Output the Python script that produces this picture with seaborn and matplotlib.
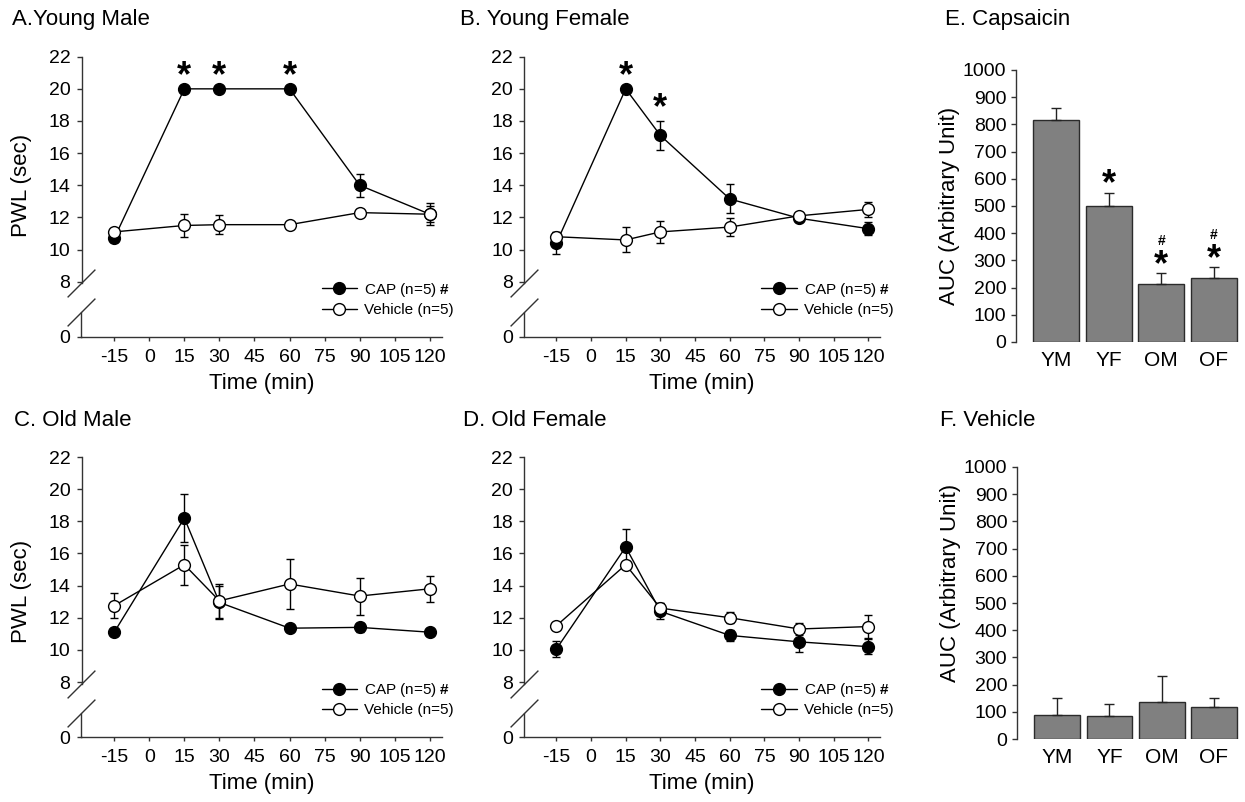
import matplotlib

matplotlib.use("Agg")
import matplotlib.pyplot as plt
from matplotlib.lines import Line2D
import numpy as np
import seaborn as sns

W, H = 1245, 802

times = [-15, 15, 30, 60, 90, 120]

# PWL (sec), mean and SEM
ym_cap = [10.7, 20.0, 20.0, 20.0, 14.0, 12.2]
ym_cap_sem = [0.2, 0.0, 0.0, 0.0, 0.7, 0.5]
ym_veh = [11.1, 11.5, 11.55, 11.55, 12.3, 12.2]
ym_veh_sem = [0.2, 0.7, 0.6, 0.1, 0.2, 0.7]

yf_cap = [10.4, 20.0, 17.1, 13.15, 11.95, 11.3]
yf_cap_sem = [0.7, 0.0, 0.9, 0.9, 0.2, 0.4]
yf_veh = [10.8, 10.6, 11.1, 11.4, 12.1, 12.5]
yf_veh_sem = [0.3, 0.78, 0.7, 0.55, 0.2, 0.45]

om_cap = [11.1, 18.2, 12.95, 11.35, 11.4, 11.1]
om_cap_sem = [0.2, 1.5, 1.0, 0.15, 0.3, 0.15]
om_veh = [12.75, 15.3, 13.05, 14.1, 13.35, 13.8]
om_veh_sem = [0.78, 1.25, 1.05, 1.55, 1.15, 0.8]

of_cap = [10.05, 16.4, 12.4, 10.9, 10.5, 10.2]
of_cap_sem = [0.5, 1.15, 0.5, 0.35, 0.65, 0.45]
of_veh = [11.5, 15.3, 12.6, 12.0, 11.3, 11.45]
of_veh_sem = [0.15, 0.15, 0.3, 0.35, 0.4, 0.7]

ym_stars = [15, 30, 60]
yf_stars = [15, 30]

groups = ["YM", "YF", "OM", "OF"]
auc_cap = [815, 500, 215, 237]
auc_cap_sem = [45, 48, 37, 38]
auc_veh = [88, 85, 137, 117]
auc_veh_sem = [62, 45, 93, 35]
auc_cap_stars = ["YF", "OM", "OF"]
auc_cap_hash = ["OM", "OF"]

x_ticks = [-15, 0, 15, 30, 45, 60, 75, 90, 105, 120]
y_zero = 4.58          # where "0" sits below the axis break
brk_hi, brk_lo = 7.9, 6.1
AXC = "#333333"

sns.set_theme(style="ticks")
plt.rcParams["font.family"] = ["Liberation Sans", "DejaVu Sans"]
plt.rcParams["mathtext.fontset"] = "custom"
plt.rcParams["mathtext.rm"] = "Liberation Sans"
plt.rcParams["mathtext.bf"] = "Liberation Sans:bold"
plt.rcParams["text.color"] = "black"
plt.rcParams["axes.labelcolor"] = "black"
plt.rcParams["axes.edgecolor"] = AXC
plt.rcParams["axes.linewidth"] = 1.0
plt.rcParams["xtick.color"] = AXC
plt.rcParams["ytick.color"] = AXC
plt.rcParams["xtick.labelcolor"] = "black"
plt.rcParams["ytick.labelcolor"] = "black"

fig = plt.figure(figsize=(W / 100, H / 100), dpi=100)


def px_axes(left, top, right, bottom):
    return fig.add_axes([left / W, 1 - bottom / H, (right - left) / W, (bottom - top) / H])


def mark(ax, x, y, s, off_pt, size, ink=0.165):
    ax.annotate(s, xy=(x, y), xytext=(0, off_pt - ink * size), textcoords="offset points",
                ha="center", va="center", fontsize=size, fontweight="bold", color="black",
                annotation_clip=False)


def time_panel(ax, cap, cap_sem, veh, veh_sem, stars, ylab, ylab_y):
    xmin, xmax = -29, 125
    ax.errorbar(times, cap, yerr=cap_sem, fmt="none", ecolor="black", elinewidth=1,
                capsize=3, capthick=1, zorder=2)
    ax.errorbar(times, veh, yerr=veh_sem, fmt="none", ecolor="black", elinewidth=1,
                capsize=3, capthick=1, zorder=2)
    sns.lineplot(x=times, y=cap, ax=ax, color="black", lw=1, marker="o", ms=8.5,
                 markerfacecolor="black", markeredgecolor="black", markeredgewidth=1, zorder=3)
    sns.lineplot(x=times, y=veh, ax=ax, color="black", lw=1, marker="o", ms=8.5,
                 markerfacecolor="white", markeredgecolor="black", markeredgewidth=1, zorder=4)
    for t in stars:
        i = times.index(t)
        mark(ax, t, cap[i] + cap_sem[i], "*", 13, 26)

    ax.set_xlim(xmin, xmax)
    ax.set_ylim(y_zero, 22)
    ax.set_xticks(x_ticks)
    ax.set_xticklabels([str(v) for v in x_ticks], fontsize=14)
    yt = [y_zero] + list(range(8, 23, 2))
    ax.set_yticks(yt)
    ax.set_yticklabels(["0"] + [str(v) for v in range(8, 23, 2)], fontsize=14)
    ax.tick_params(axis="x", length=3, width=1, pad=5.5)
    ax.tick_params(axis="y", length=3.5, width=1, pad=4.5)
    sns.despine(ax=ax)
    ax.spines["left"].set_bounds(brk_hi, 22)
    ax.plot([xmin, xmin], [y_zero, brk_lo], color=AXC, lw=1, clip_on=False, zorder=5)
    ax.plot([xmin, xmin], [brk_hi, brk_lo], ls="none", marker=[(-1, -1), (1, 1)], ms=20,
            markeredgewidth=1, color=AXC, clip_on=False, zorder=5)

    ax.set_xlabel("Time (min)", fontsize=16)
    ax.xaxis.set_label_coords(0.5, -0.128)
    if ylab:
        ax.set_ylabel("PWL (sec)", fontsize=16)
        ax.yaxis.set_label_coords(-0.138, ylab_y)
    else:
        ax.set_ylabel("")

    handles = [
        Line2D([], [], color="black", lw=1, marker="o", ms=8.5, markerfacecolor="black",
               markeredgecolor="black"),
        Line2D([], [], color="black", lw=1, marker="o", ms=8.5, markerfacecolor="white",
               markeredgecolor="black"),
    ]
    ax.legend(handles, ["CAP (n=5) $\\mathbf{\\#}$", "Vehicle (n=5)"], loc="center left",
              bbox_to_anchor=(0.667, 0.135), frameon=False, fontsize=11, borderpad=0,
              borderaxespad=0, handlelength=2.3, handletextpad=0.5, labelspacing=0.3)


def auc_panel(ax, vals, sem, stars, hashes, ylab_y):
    sns.barplot(x=groups, y=vals, ax=ax, color="#808080", saturation=1, width=0.876,
                edgecolor="#2b2b2b", linewidth=1, errorbar=None)
    xs = np.arange(len(groups))
    ax.errorbar(xs, vals, yerr=[np.zeros(len(vals)), sem], fmt="none", ecolor="#222222",
                elinewidth=1, capsize=3.6, capthick=1, zorder=3)
    for g in stars:
        i = groups.index(g)
        mark(ax, i, vals[i] + sem[i], "*", 10, 26)
    for g in hashes:
        i = groups.index(g)
        mark(ax, i, vals[i] + sem[i], "#", 24.5, 10, ink=0.1)
    ax.set_xlim(-0.77, 3.5)
    ax.set_ylim(0, 1000)
    ax.set_yticks(range(0, 1001, 100))
    ax.set_yticklabels([str(v) for v in range(0, 1001, 100)], fontsize=14)
    ax.tick_params(axis="y", length=3.5, width=1, pad=3.5)
    ax.tick_params(axis="x", length=0, pad=6.5, labelsize=15)
    sns.despine(ax=ax, bottom=True)
    ax.set_xlabel("")
    ax.set_ylabel("AUC (Arbitrary Unit)", fontsize=16)
    ax.yaxis.set_label_coords(-0.25, ylab_y)


axA = px_axes(81.5, 56.7, 441.5, 336.7)
axB = px_axes(524, 56.7, 880, 336.7)
axC = px_axes(81.5, 457, 441.5, 737)
axD = px_axes(524, 457, 880, 737)
axE = px_axes(1016, 70, 1240, 342)
axF = px_axes(1017, 467, 1240, 739)

time_panel(axA, ym_cap, ym_cap_sem, ym_veh, ym_veh_sem, ym_stars, True, 0.542)
time_panel(axB, yf_cap, yf_cap_sem, yf_veh, yf_veh_sem, yf_stars, False, 0.5)
time_panel(axC, om_cap, om_cap_sem, om_veh, om_veh_sem, [], True, 0.519)
time_panel(axD, of_cap, of_cap_sem, of_veh, of_veh_sem, [], False, 0.5)
auc_panel(axE, auc_cap, auc_cap_sem, auc_cap_stars, auc_cap_hash, 0.5)
auc_panel(axF, auc_veh, auc_veh_sem, [], [], 0.575)

titles = [("A.Young Male", 12, 20), ("B. Young Female", 460, 20), ("E. Capsaicin", 945, 20),
          ("C. Old Male", 14, 421), ("D. Old Female", 463, 421), ("F. Vehicle", 940, 421)]
for s, x, y in titles:
    fig.text(x / W, 1 - y / H, s, ha="left", va="center", fontsize=16)

fig.savefig("out.png", dpi=100)
